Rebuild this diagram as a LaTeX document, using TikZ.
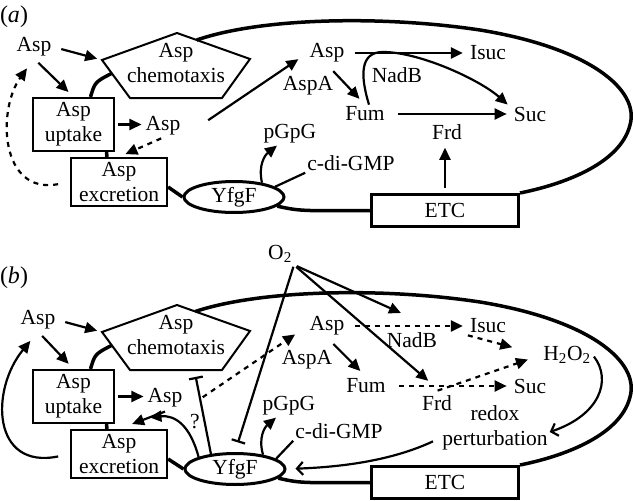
\documentclass[tikz,border=0pt]{standalone}
\usepackage{fontspec}
\setmainfont{Liberation Serif}
\usetikzlibrary{arrows.meta,shapes.geometric,calc}

\tikzset{
 lbl/.style={inner sep=2pt,font=\fontsize{21.5}{25}\selectfont,align=center},
 box/.style={lbl,draw,line width=2.2pt},
 cell/.style={lbl,ellipse,draw,line width=3pt,inner sep=0pt,minimum width=100pt,minimum height=31pt},
 mem/.style={line width=3.5pt},
 act/.style={line width=2.2pt,-{Triangle[length=12pt,width=11pt]}},
 dsh/.style={act,dash pattern=on 5pt off 5pt},
 inh/.style={line width=2.2pt,-{Bar[width=14pt]}},
 opn/.style={line width=2.2pt,-{Straight Barb[length=6pt,width=13pt]}},
}

\begin{document}
\begin{tikzpicture}[x=1pt,y=-1pt]
 \useasboundingbox (0,0) rectangle (633,501);

 %%%% (a)
 \node[lbl,font=\fontsize{24}{26}\selectfont] (labA) at (14,17) {(\textit{a})};
 \coordinate (pA1) at (177,33); %五角形
 \coordinate (pA2) at (250,59);
 \coordinate (pA3) at (222,98);
 \coordinate (pA4) at (130,98);
 \coordinate (pA5) at (102,60);
 \draw[line width=2pt] (pA1)--(pA2)--(pA3)--(pA4)--(pA5)--cycle;
 \node[lbl] (chemA) at (176,63) {Asp\\chemotaxis};
 \node[box,minimum width=81pt,minimum height=53pt] (upA) at (73.5,124.5) {Asp\\uptake};
 \node[box,minimum width=96pt,minimum height=48pt] (excA) at (119,182) {Asp\\excretion};
 \node[cell] (yfgfA) at (234,197) {YfgF};
 \node[box,line width=3pt,minimum width=147pt,minimum height=32pt] (etcA) at (445,210.5) {ETC};
 \node[lbl] (aspTLA) at (34,47) {Asp};
 \node[lbl] (aspMA) at (163,126) {Asp};
 \node[lbl] (aspA) at (327,53) {Asp};
 \node[lbl] (isucA) at (488,53) {Isuc};
 \node[lbl] (nadbA) at (397,75) {NadB};
 \node[lbl] (aspaA) at (308,86) {AspA};
 \node[lbl] (fumA) at (365,114) {Fum};
 \node[lbl] (sucA) at (530,114) {Suc};
 \node[lbl] (frdA) at (447,132) {Frd};
 \node[lbl] (pgpgA) at (290,134) {pGpG};
 \node[lbl] (cdgA) at (351,163) {c-di-GMP};

 % 膜
 \draw[mem] ($(pA1)!0.27!(pA2)$) .. controls (260,18) and (380,15) .. (480,30)
   .. controls (590,48) and (640,90) .. (630,125) .. controls (620,165) and (560,185) .. (etcA.north east);
 \draw[mem] ($(pA5)!0.35!(pA4)$) .. controls (95,82) .. ([xshift=17pt]upA.north);
 \draw[mem] ([xshift=33pt]upA.south) -- ([xshift=-12pt]excA.north);
 \draw[mem] ([yshift=-5pt]excA.east) -- (yfgfA.west);
 \draw[mem] (yfgfA.-12) .. controls (300,211) .. (etcA.west);

 % 矢印
 \draw[act,shorten <=8pt,shorten >=5pt] (aspTLA.east) -- (pA5);
 \draw[act,shorten <=6pt,shorten >=7pt] (aspTLA.south) -- (upA.north);
 \draw[act,shorten <=3pt,shorten >=2pt] (upA.east) -- (upA.east -| aspMA.west);
 \draw[dsh,shorten <=2pt,shorten >=7pt] (aspMA.south) -- (excA.north);
 \draw[dsh,shorten <=12pt,shorten >=12pt] (excA.west) .. controls (0,195) and (-3,110) .. (aspTLA.south);
 \draw[act,shorten <=31pt,shorten >=11pt] (aspMA.south east) -- (aspA.west);
 \draw[act,shorten <=8pt,shorten >=5pt] (aspA.east) -- (isucA.west);
 \draw[act,shorten <=9pt,shorten >=8pt] (aspA.south) -- (fumA.north);
 \draw[act,shorten <=11pt,shorten >=5pt] (fumA.east) -- (sucA.west);
 \draw[act] ([xshift=4pt]fumA.north) .. controls (360,75) and (360,52) .. (383,52)
   .. controls (420,52) and (480,80) .. ([xshift=-4pt]sucA.north west);
 \draw[act,shorten <=5pt,shorten >=6pt] (etcA.north) -- (etcA.north |- frdA.south);
 \draw[act] (yfgfA.27) .. controls (258,165) and (265,155) .. ([xshift=-13pt]pgpgA.south);
 \draw[line width=2.2pt] (yfgfA.14) -- (cdgA.south west);

 %%%% (b)
 \node[lbl,font=\fontsize{24}{26}\selectfont] (labB) at (14,278) {(\textit{b})};
 \coordinate (pB1) at (177,305); %五角形
 \coordinate (pB2) at (250,331);
 \coordinate (pB3) at (222,370);
 \coordinate (pB4) at (130,370);
 \coordinate (pB5) at (102,332);
 \draw[line width=2pt] (pB1)--(pB2)--(pB3)--(pB4)--(pB5)--cycle;
 \node[lbl] (chemB) at (176,335) {Asp\\chemotaxis};
 \node[box,minimum width=81pt,minimum height=53pt] (upB) at (73.5,396.5) {Asp\\uptake};
 \node[box,minimum width=96pt,minimum height=48pt] (excB) at (119,454) {Asp\\excretion};
 \node[cell] (yfgfB) at (235,469) {YfgF};
 \node[box,line width=3pt,minimum width=147pt,minimum height=32pt] (etcB) at (445,482.5) {ETC};
 \node[lbl] (aspTLB) at (38,320) {Asp};
 \node[lbl] (aspMB) at (165,398) {Asp};
 \node[lbl] (aspB) at (327,326) {Asp};
 \node[lbl] (isucB) at (488,326) {Isuc};
 \node[lbl] (nadbB) at (412,340) {NadB};
 \node[lbl] (aspaB) at (307,360) {AspA};
 \node[lbl] (fumB) at (366,386) {Fum};
 \node[lbl] (sucB) at (530,386) {Suc};
 \node[lbl] (frdB) at (437,403) {Frd};
 \node[lbl] (h2o2B) at (567,355) {H\textsubscript{2}O\textsubscript{2}};
 \node[lbl] (redoxB) at (495,428) {redox\\perturbation};
 \node[lbl] (pgpgB) at (289,406) {pGpG};
 \node[lbl] (cdgB) at (339,431) {c-di-GMP};
 \node[lbl] (o2B) at (280,254) {O\textsubscript{2}};
 \node[lbl] (qB) at (195,422) {?};

 % 膜
 \draw[mem] ($(pB1)!0.25!(pB2)$) .. controls (260,290) and (380,287) .. (480,302)
   .. controls (590,320) and (640,362) .. (630,397) .. controls (620,437) and (560,457) .. (etcB.north east);
 \draw[mem] ($(pB5)!0.35!(pB4)$) .. controls (95,354) .. ([xshift=17pt]upB.north);
 \draw[mem] ([xshift=33pt]upB.south) -- ([xshift=-12pt]excB.north);
 \draw[mem] ([yshift=-5pt]excB.east) -- (yfgfB.west);
 \draw[mem] (yfgfB.-12) .. controls (300,483) .. (etcB.west);

 % 矢印
 \draw[act,shorten <=8pt,shorten >=5pt] (aspTLB.east) -- (pB5);
 \draw[act,shorten <=6pt,shorten >=7pt] (aspTLB.south) -- (upB.north);
 \draw[act,shorten <=3pt,shorten >=2pt] (upB.east) -- (upB.east -| aspMB.west);
 \draw[act,shorten <=12pt,shorten >=12pt] (excB.west) .. controls (-8,470) and (-10,390) .. (aspTLB.south);
 \draw[dsh,shorten <=22pt,shorten >=15pt] (aspMB.south east) -- (aspB.west);
 \draw[act,shorten >=4pt] (yfgfB.north west) .. controls (190,425) and (175,415) .. ([yshift=-8pt]aspMB.south west);
 \draw[act,shorten >=14pt] ([yshift=-2pt]aspMB.south) -- (excB.north);
 \draw[inh,shorten >=7pt] (yfgfB.148) -- ($(pB4)!0.7!(pB3)$);
 \draw[inh,shorten <=2pt,shorten >=10pt] (o2B.south east) -- (yfgfB.north);
 \draw[act,shorten <=3pt,shorten >=42pt] (o2B.south east) -- (nadbB.north east);
 \draw[act,shorten <=3pt,shorten >=19pt] (o2B.south east) -- (frdB.60);
 \draw[dsh,shorten <=8pt,shorten >=5pt] (aspB.east) -- (isucB.west);
 \draw[act,shorten <=9pt,shorten >=8pt] (aspB.south) -- (fumB.north);
 \draw[dsh,shorten <=11pt,shorten >=5pt] (fumB.east) -- (sucB.west);
 \draw[dsh,shorten >=30pt] (isucB.south west) -- (h2o2B.west);
 \draw[dsh,shorten <=8pt,shorten >=14pt] ([xshift=-7pt]frdB.north) -- (h2o2B.west);
 \draw[opn,shorten <=2pt] (h2o2B.east) .. controls (612,380) and (600,415) .. ([yshift=-4pt]redoxB.east);
 \draw[opn,shorten <=8pt,shorten >=9pt] ([yshift=-10pt]redoxB.west) .. controls (410,452) and (370,466) .. (yfgfB.east);
 \draw[act] (yfgfB.27) .. controls (258,437) and (265,427) .. ([xshift=-13pt]pgpgB.south);
 \draw[line width=2.2pt] (yfgfB.14) -- (cdgB.south west);
\end{tikzpicture}
\end{document}
